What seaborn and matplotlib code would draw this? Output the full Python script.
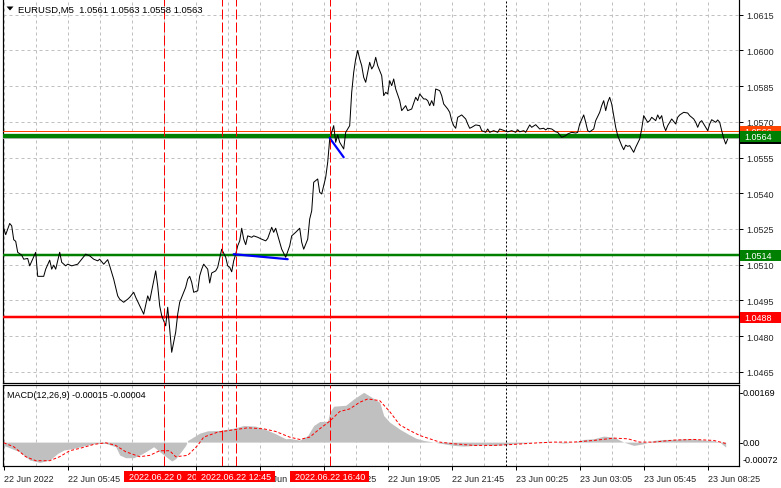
import numpy as np
import pandas as pd
import matplotlib
matplotlib.use("Agg")
import matplotlib.pyplot as plt
from matplotlib.patches import Rectangle, Polygon
import seaborn as sns

# ---------------- data ----------------
price_bars = [0,1,3,4,5,6,7,9,10,12,13,15,16,17,20,21,23,24,25,26,28,29,31,32,34,37,39,41,43,45,47,48,50,52,53,55,57,58,60,62,63,65,66,68,70,72,73,76,77,78,79,81,82,83,84,86,87,88,90,91,92,93,94,95,97,98,99,100,102,103,104,106,107,108,109,111,112,113,114,115,116,117,118,119,120,121,122,124,125,127,129,131,132,134,135,136,138,139,141,143,144,146,148,149,150,152,153,154,155,157,158,159,160,161,162,163,165,166,167,168,170,171,172,173,174,175,176,177,178,179,180,181,182,183,184,185,186,187,188,189,190,191,192,193,194,195,196,198,199,201,202,204,206,207,208,210,211,212,213,214,215,216,218,219,220,222,223,224,225,226,227,229,231,232,233,234,236,238,239,241,242,243,245,247,248,252,254,256,257,258,260,261,263,264,266,268,270,271,272,274,276,277,279,281,282,284,286,287,288,290,291,292,293,295,296,298,299,300,301,302,303,304,305,306,307,308,309,310,311,312,313,315,316,318,319,320,322,323,324,326,327,328,329,330,331,332,333,334,336,337,338,340,342,343,345,346,347,348,349,351,352,353,354,356,357,358,359,360,361,362]
price_close = [1.05254,1.05226,1.05273,1.05263,1.05205,1.05198,1.05152,1.05140,1.05123,1.05126,1.05095,1.05133,1.05152,1.05051,1.05051,1.05081,1.05119,1.05081,1.05098,1.05081,1.05152,1.05110,1.05095,1.05102,1.05095,1.05102,1.05123,1.05144,1.05137,1.05123,1.05116,1.05123,1.05102,1.05121,1.05095,1.05039,1.04969,1.04955,1.04942,1.04955,1.04963,1.04984,1.04963,1.04927,1.04892,1.04969,1.04948,1.05074,1.05011,1.04927,1.04886,1.04843,1.04921,1.04830,1.04732,1.04817,1.04892,1.04942,1.04984,1.05005,1.05039,1.05051,1.05026,1.04984,1.04990,1.05053,1.05081,1.05102,1.05081,1.05023,1.05065,1.05074,1.05089,1.05126,1.05165,1.05131,1.05095,1.05089,1.05070,1.05116,1.05144,1.05179,1.05200,1.05253,1.05207,1.05184,1.05221,1.05215,1.05221,1.05215,1.05207,1.05200,1.05210,1.05257,1.05236,1.05253,1.05194,1.05165,1.05131,1.05179,1.05221,1.05236,1.05253,1.05194,1.05165,1.05207,1.05292,1.05326,1.05446,1.05460,1.05404,1.05397,1.05432,1.05467,1.05530,1.05628,1.05684,1.05614,1.05645,1.05614,1.05586,1.05656,1.05670,1.05684,1.05824,1.05908,1.05964,1.06000,1.05964,1.05936,1.05887,1.05866,1.05908,1.05950,1.05922,1.05936,1.05971,1.05936,1.05915,1.05894,1.05810,1.05824,1.05817,1.05873,1.05852,1.05880,1.05838,1.05789,1.05747,1.05768,1.05747,1.05754,1.05803,1.05789,1.05817,1.05796,1.05796,1.05789,1.05768,1.05789,1.05768,1.05838,1.05831,1.05810,1.05775,1.05754,1.05740,1.05705,1.05684,1.05673,1.05719,1.05729,1.05712,1.05691,1.05673,1.05677,1.05687,1.05684,1.05663,1.05656,1.05670,1.05656,1.05663,1.05656,1.05670,1.05658,1.05663,1.05656,1.05667,1.05658,1.05663,1.05656,1.05687,1.05677,1.05688,1.05670,1.05673,1.05666,1.05673,1.05670,1.05658,1.05656,1.05635,1.05642,1.05649,1.05656,1.05653,1.05656,1.05691,1.05729,1.05698,1.05663,1.05658,1.05670,1.05705,1.05740,1.05768,1.05789,1.05747,1.05782,1.05803,1.05775,1.05726,1.05677,1.05642,1.05621,1.05600,1.05583,1.05602,1.05597,1.05600,1.05572,1.05593,1.05628,1.05670,1.05726,1.05698,1.05705,1.05719,1.05705,1.05729,1.05712,1.05726,1.05684,1.05663,1.05684,1.05698,1.05712,1.05691,1.05719,1.05729,1.05740,1.05737,1.05726,1.05712,1.05698,1.05677,1.05698,1.05705,1.05677,1.05663,1.05691,1.05709,1.05698,1.05708,1.05698,1.05663,1.05631,1.05607,1.05628]

hist_bars = [0,8,13,18,23,27,30,35,41,46,51,56,58,61,65,68,71,75,78,81,84,86,88,91,92,94,98,102,108,115,120,126,131,136,141,143,148,152,155,158,162,163,165,171,175,180,188,190,193,198,202,206,210,215,220,225,230,235,240,245,250,255,260,265,270,275,280,285,290,295,300,305,310,315,320,325,330,335,340,345,350,355,358,361]
hist_vals = [-0.00010,-0.00029,-0.00054,-0.00061,-0.00054,-0.00034,-0.00024,-0.00019,-0.00010,-0.00004,-0.00004,-0.00014,-0.00039,-0.00047,-0.00047,-0.00039,-0.00029,-0.00014,-0.00029,-0.00043,-0.00057,-0.00050,-0.00034,-0.00010,0.00005,0.00012,0.00027,0.00034,0.00035,0.00042,0.00050,0.00048,0.00038,0.00025,0.00010,0.00011,0.00006,0.00020,0.00050,0.00062,0.00063,0.00090,0.00108,0.00111,0.00130,0.00150,0.00120,0.00080,0.00060,0.00039,0.00025,0.00012,0.00005,0.00000,-0.00005,-0.00010,-0.00012,-0.00010,-0.00008,-0.00010,-0.00008,-0.00005,-0.00003,0.00000,0.00002,0.00000,-0.00003,0.00000,0.00008,0.00010,0.00018,0.00015,0.00000,-0.00010,-0.00005,0.00005,0.00008,0.00008,0.00010,0.00010,0.00006,0.00004,0.00000,-0.00015]

signal_bars = [0,5,11,16,23,28,33,38,45,51,56,61,68,73,78,83,86,92,97,100,107,115,122,130,136,143,148,153,158,163,168,173,178,182,188,193,198,203,208,213,218,225,235,245,255,265,275,285,295,305,312,318,325,335,345,355,361]
signal_vals = [-0.00002,-0.00014,-0.00044,-0.00056,-0.00056,-0.00044,-0.00026,-0.00019,-0.00007,-0.00002,-0.00010,-0.00029,-0.00044,-0.00040,-0.00026,-0.00026,-0.00044,-0.00040,-0.00010,0.00015,0.00030,0.00037,0.00043,0.00040,0.00032,0.00015,0.00008,0.00015,0.00040,0.00063,0.00092,0.00100,0.00120,0.00130,0.00125,0.00092,0.00052,0.00035,0.00020,0.00010,0.00000,-0.00005,-0.00010,-0.00010,-0.00007,-0.00003,0.00000,0.00000,0.00005,0.00012,0.00010,0.00000,0.00000,0.00006,0.00008,0.00005,-0.00004]

blue_bars = [[115, 142], [163, 170]]
blue_prices = [[1.05144, 1.05123], [1.05632, 1.05551]]

level_prices = [1.0566, 1.0564, 1.0563, 1.0514, 1.0488]
level_names = ["orange", "green", "bid", "green2", "red"]

vline_bars = [80, 109, 116, 163]
vline_labels = ["2022.06.22 09:45", "2022.06.22 12:10", "2022.06.22 12:45", "2022.06.22 16:40"]
day_sep_bar = 251

xtick_bars = [0, 32, 64, 96, 128, 160, 192, 224, 256, 288, 320, 352]
xtick_labels = ["22 Jun 2022", "22 Jun 05:45", "22 Jun 08:25", "22 Jun 11:05", "22 Jun 13:45",
                "22 Jun 16:25", "22 Jun 19:05", "22 Jun 21:45", "23 Jun 00:25", "23 Jun 03:05",
                "23 Jun 05:45", "23 Jun 08:25"]
price_ticks = [1.0465, 1.0480, 1.0495, 1.0510, 1.0525, 1.0540, 1.0555, 1.0570, 1.0585, 1.0600, 1.0615]
price_tick_labels = ["1.0465", "1.0480", "1.0495", "1.0510", "1.0525", "1.0540", "1.0555",
                     "1.0570", "1.0585", "1.0600", "1.0615"]
macd_scale_labels = ["0.00169", "0.00", "-0.00072"]
title_text = "EURUSD,M5  1.0561 1.0563 1.0558 1.0563"
macd_text = "MACD(12,26,9) -0.00015 -0.00004"

# ---------------- style ----------------
sns.set_style("white")
plt.rcParams['font.family'] = ['Liberation Sans', 'DejaVu Sans']
FS = 6.5
W, H = 781, 489
fig = plt.figure(figsize=(W / 100, H / 100), dpi=100)
fig.patch.set_facecolor("white")

def fx(px):
    return px / W

def fy(py):
    return 1 - py / H

PX = 0.72  # 1 pixel in points
GRID_C = "#C0C0C0"

ax = fig.add_axes([fx(2.7), fy(383.5), fx(739.5 - 2.7), 383.5 / H])
axm = fig.add_axes([fx(2.7), fy(467), fx(739.5 - 2.7), (467 - 386) / H])

xlim = (-0.5, 367.9)
for a in (ax, axm):
    a.set_facecolor("white")
    a.set_xlim(*xlim)
    for s in a.spines.values():
        s.set_color("black")
        s.set_linewidth(1.2 * PX)
ax.spines["top"].set_visible(False)
ax.set_ylim(1.04605, 1.06216)
axm.set_ylim(-0.00072, 0.00172)

grid_x = list(range(0, 368, 16))
for a in (ax, axm):
    for gx in grid_x:
        a.axvline(gx, color=GRID_C, lw=PX, ls=(0, (3, 3)), zorder=0.5)
for py in price_ticks:
    ax.axhline(py, color=GRID_C, lw=PX, ls=(0, (3, 3)), zorder=0.5)

# ---------------- main price panel ----------------
df = pd.DataFrame({"bar": price_bars, "close": price_close})
sns.lineplot(data=df, x="bar", y="close", ax=ax, color="black", lw=1.0 * PX,
             estimator=None, sort=False, zorder=5)

level_styles = {"orange": ("#FF4500", 1.0), "green": ("#008000", 4.3), "bid": ("#C0C0C0", 1.0),
                "green2": ("#008000", 2.5), "red": ("#FF0000", 2.5)}
for p, n in zip(level_prices, level_names):
    c, w = level_styles[n]
    ax.axhline(p, color=c, lw=w * PX, zorder=4 if n != "bid" else 3.5)

for bx, bp in zip(blue_bars, blue_prices):
    ax.plot(bx, bp, color="#0000FF", lw=2.2 * PX, zorder=6)

for vb in vline_bars:
    for a in (ax, axm):
        a.axvline(vb, color="#FF0000", lw=1.0 * PX, ls=(0, (10, 3)), zorder=7)
for a in (ax, axm):
    a.axvline(day_sep_bar, color="black", lw=1.0 * PX, ls=(0, (2, 2)), zorder=7)

ax.yaxis.tick_right()
ax.set_yticks(price_ticks)
ax.set_yticklabels(price_tick_labels)
ax.tick_params(axis="y", which="both", right=True, left=False, length=3, width=PX,
               color="black", labelsize=FS, pad=2)
ax.set_xticks(xtick_bars)
ax.tick_params(axis="x", bottom=False, labelbottom=False)
ax.set_xlabel("")
ax.set_ylabel("")

# ---------------- MACD panel ----------------
axm.fill_between(hist_bars, 0, hist_vals, color="#C0C0C0", lw=0, zorder=2)
dsig = pd.DataFrame({"bar": signal_bars, "sig": signal_vals})
sns.lineplot(data=dsig, x="bar", y="sig", ax=axm, color="#FF0000", lw=1.0 * PX,
             estimator=None, sort=False, zorder=3)
axm.lines[-1].set_linestyle((0, (3, 2)))
axm.set_xlabel("")
axm.set_ylabel("")
axm.yaxis.tick_right()
axm.set_yticks([])
axm.set_xticks(xtick_bars)
axm.set_xticklabels(xtick_labels)
axm.tick_params(axis="x", bottom=True, length=3, width=PX, color="black",
                labelsize=FS, pad=3)
for lab in axm.get_xticklabels():
    lab.set_horizontalalignment("left")

fig.canvas.draw()

# MACD right scale labels
for txt, py in zip(macd_scale_labels, [394, 444, 461]):
    fig.text(fx(742.5), fy(py), txt, fontsize=FS, va="center", ha="left", color="black")
for py in [394, 444]:
    fig.add_artist(plt.Line2D([fx(739.5), fx(742)], [fy(py), fy(py)], color="black",
                              lw=PX, transform=fig.transFigure))

# price labels on right axis
def price_box(price, text, fc, z):
    ypix = ax.transData.transform((0, price))[1]
    yf = ypix / fig.bbox.height
    h = 11 / H
    fig.add_artist(Rectangle((fx(740), yf - h / 2), 1 - fx(740), h, transform=fig.transFigure,
                             facecolor=fc, edgecolor="none", zorder=z))
    fig.text(fx(744), yf, text, fontsize=FS, color="white", va="center", ha="left", zorder=z + 0.1)

price_box(1.0566, "1.0566", "#FF4500", 10)
price_box(1.0563, "1.0563", "black", 11)
price_box(1.0564, "1.0564", "#008000", 12)
price_box(1.0514, "1.0514", "#008000", 12)
price_box(1.0488, "1.0488", "#FF0000", 12)

# red time labels at bottom
for i, (vb, lab) in enumerate(zip(vline_bars, vline_labels)):
    xpix = axm.transData.transform((vb, 0))[0]
    xf = xpix / fig.bbox.width
    w = 79 / W
    h = 11 / H
    yc = fy(477.5)
    fig.add_artist(Rectangle((xf - w / 2, yc - h / 2), w, h, transform=fig.transFigure,
                             facecolor="#FF0000", edgecolor="none", zorder=20 + i))
    fig.text(xf, yc, lab, fontsize=FS, color="white", va="center", ha="center", zorder=20.5 + i)

# title & indicator label
tri = Polygon([[fx(6.5), fy(7.5)], [fx(13.5), fy(7.5)], [fx(10), fy(11.5)]], closed=True,
              transform=fig.transFigure, facecolor="black", edgecolor="none", zorder=30)
fig.add_artist(tri)
fig.text(fx(18.5), fy(10), title_text, fontsize=FS + 0.3, va="center", ha="left", color="black", zorder=30)
fig.text(fx(7), fy(395), macd_text, fontsize=FS, va="center", ha="left", color="black", zorder=30)

fig.savefig("out.png", dpi=100, facecolor="white")
